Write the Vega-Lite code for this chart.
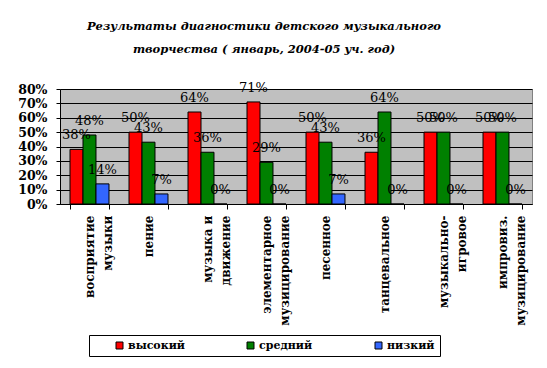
{
  "$schema": "https://vega.github.io/schema/vega-lite/v6.json",
  "width": 472,
  "height": 115,
  "autosize": {"type": "none"},
  "padding": {"left": 60, "top": 89, "right": 15, "bottom": 164},
  "background": "white",
  "title": {
    "text": ["Результаты диагностики детского музыкального", "творчества ( январь, 2004-05 уч. год)"],
    "font": "DejaVu Serif",
    "fontSize": 11.5,
    "fontStyle": "italic",
    "fontWeight": "bold",
    "lineHeight": 23,
    "anchor": "middle",
    "frame": "group",
    "dx": -32,
    "offset": 26,
    "color": "black"
  },
  "data": {
    "values": [
      {"cat": "восприятие|музыки", "level": "высокий", "value": 0.38},
      {"cat": "восприятие|музыки", "level": "средний", "value": 0.48},
      {"cat": "восприятие|музыки", "level": "низкий", "value": 0.14},
      {"cat": "пение", "level": "высокий", "value": 0.50},
      {"cat": "пение", "level": "средний", "value": 0.43},
      {"cat": "пение", "level": "низкий", "value": 0.07},
      {"cat": "музыка и|движение", "level": "высокий", "value": 0.64},
      {"cat": "музыка и|движение", "level": "средний", "value": 0.36},
      {"cat": "музыка и|движение", "level": "низкий", "value": 0.0},
      {"cat": "элементарное|музицирование", "level": "высокий", "value": 0.71},
      {"cat": "элементарное|музицирование", "level": "средний", "value": 0.29},
      {"cat": "элементарное|музицирование", "level": "низкий", "value": 0.0},
      {"cat": "песенное", "level": "высокий", "value": 0.50},
      {"cat": "песенное", "level": "средний", "value": 0.43},
      {"cat": "песенное", "level": "низкий", "value": 0.07},
      {"cat": "танцевальное", "level": "высокий", "value": 0.36},
      {"cat": "танцевальное", "level": "средний", "value": 0.64},
      {"cat": "танцевальное", "level": "низкий", "value": 0.0},
      {"cat": "музыкально-|игровое", "level": "высокий", "value": 0.50},
      {"cat": "музыкально-|игровое", "level": "средний", "value": 0.50},
      {"cat": "музыкально-|игровое", "level": "низкий", "value": 0.0},
      {"cat": "импровиз.|музицирование", "level": "высокий", "value": 0.50},
      {"cat": "импровиз.|музицирование", "level": "средний", "value": 0.50},
      {"cat": "импровиз.|музицирование", "level": "низкий", "value": 0.0}
    ]
  },
  "encoding": {
    "x": {
      "field": "cat",
      "type": "nominal",
      "sort": null,
      "scale": {"paddingInner": 0.339, "paddingOuter": 0.1695},
      "axis": {
        "title": null,
        "labelExpr": "split(datum.label, '|')",
        "labelAngle": -90,
        "labelAlign": "right",
        "labelBaseline": "middle",
        "labelFont": "DejaVu Serif",
        "labelFontWeight": "bold",
        "labelFontSize": 12,
        "labelLineHeight": 18,
        "labelColor": "black",
        "labelPadding": 6,
        "labelLimit": 300,
        "tickBand": "extent",
        "tickSize": 5,
        "tickColor": "black",
        "domainColor": "black",
        "grid": false
      }
    },
    "xOffset": {
      "field": "level",
      "type": "nominal",
      "sort": ["высокий", "средний", "низкий"],
      "scale": {"paddingInner": 0, "paddingOuter": 0}
    },
    "y": {
      "field": "value",
      "type": "quantitative",
      "scale": {"domain": [0, 0.8], "nice": false},
      "axis": {
        "title": null,
        "values": [0, 0.1, 0.2, 0.3, 0.4, 0.5, 0.6, 0.7, 0.8],
        "format": ".0%",
        "grid": true,
        "gridColor": "black",
        "gridOpacity": 1,
        "labelFont": "DejaVu Serif",
        "labelFontWeight": "bold",
        "labelFontSize": 12.5,
        "labelColor": "black",
        "labelPadding": 9,
        "tickSize": 4,
        "tickColor": "black",
        "domainColor": "black"
      }
    }
  },
  "layer": [
    {
      "mark": {"type": "bar", "stroke": "black", "strokeWidth": 1},
      "encoding": {
        "color": {
          "field": "level",
          "type": "nominal",
          "sort": ["высокий", "средний", "низкий"],
          "scale": {"domain": ["высокий", "средний", "низкий"], "range": ["#FF0000", "#008000", "#3366FF"]},
          "legend": {
            "title": " ",
            "titleOrient": "left",
            "titlePadding": 20,
            "orient": "none",
            "legendX": 29,
            "legendY": 246,
            "direction": "horizontal",
            "symbolType": "square",
            "symbolSize": 49,
            "symbolStrokeColor": "black",
            "symbolStrokeWidth": 1,
            "symbolOpacity": 1,
            "labelFont": "DejaVu Serif",
            "labelFontWeight": "bold",
            "labelFontSize": 11,
            "labelColor": "black",
            "labelOffset": 3,
            "columnPadding": 60,
            "padding": 5,
            "strokeColor": "black",
            "fillColor": "white"
          }
        }
      }
    },
    {
      "mark": {"type": "text", "baseline": "alphabetic", "dy": -10, "font": "DejaVu Serif", "fontSize": 13, "color": "black"},
      "encoding": {
        "text": {"field": "value", "type": "quantitative", "format": ".0%"}
      }
    }
  ],
  "config": {
    "font": "DejaVu Serif",
    "view": {"fill": "#C0C0C0", "stroke": "#808080"}
  }
}
